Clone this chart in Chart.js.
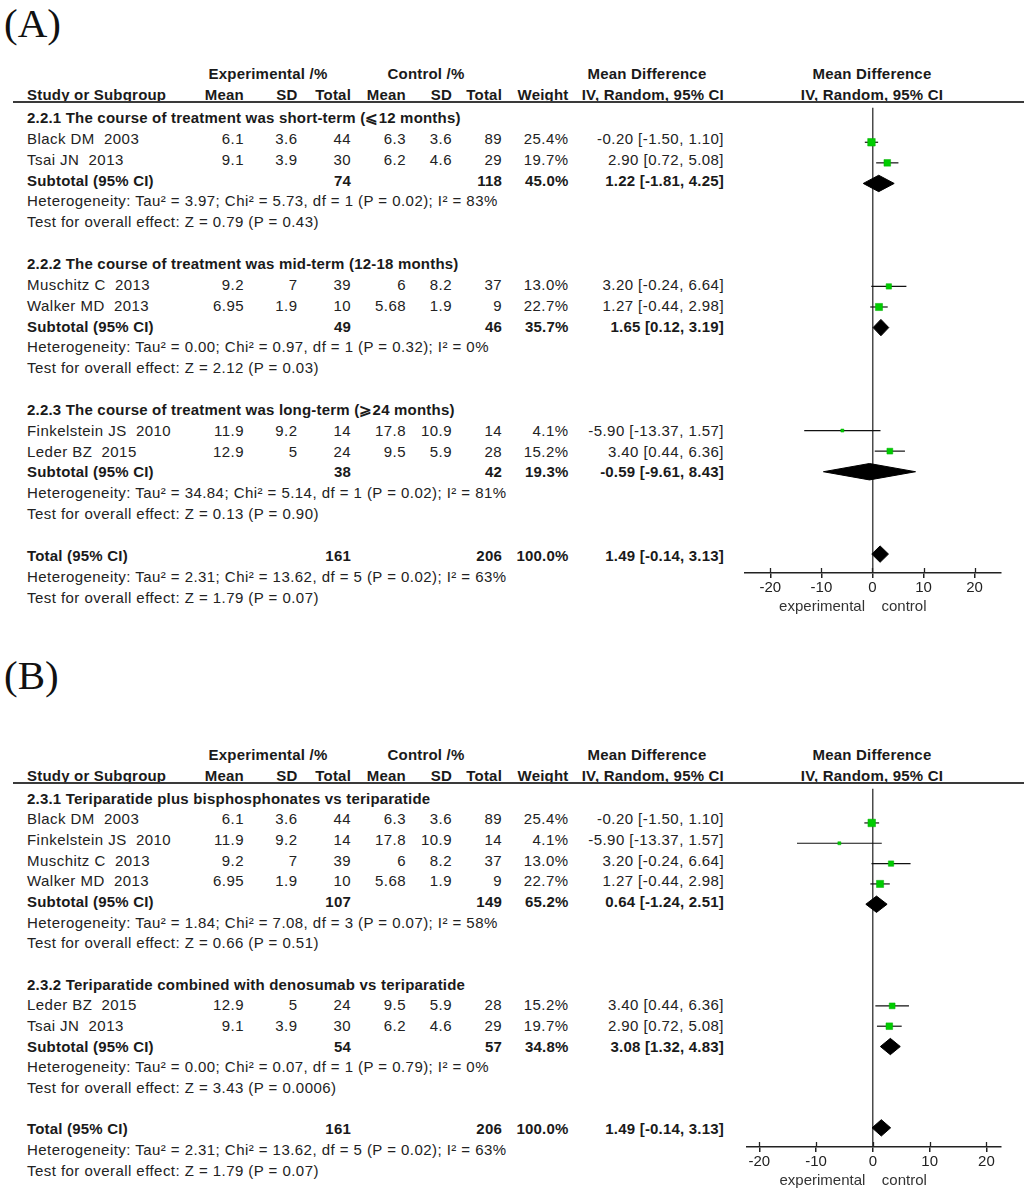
<!DOCTYPE html>
<html>
<head>
<meta charset="utf-8">
<script src="https://cdn.jsdelivr.net/npm/chart.js@4.4.1/dist/chart.umd.min.js"></script>
<style>
  html, body { margin: 0; padding: 0; background: #fff; }
  body { width: 1024px; height: 1193px; position: relative; overflow: hidden;
         font-family: 'Liberation Sans', Arial, sans-serif; color: #222; }
  .t { position: absolute; white-space: pre; font-size: 15px; line-height: 18px; letter-spacing: 0.45px; }
  .b { font-weight: bold; letter-spacing: 0.2px; color: #1a1a1a; }
  .lbl { position: absolute; font-family: 'Liberation Serif', 'Times New Roman', serif;
         font-size: 41px; line-height: 41px; color: #111; }
  .hline { position: absolute; height: 2px; background: #3a3a3a; }
  canvas { position: absolute; }
</style>
</head>
<body>
<script>
// study level data (shared by both panels)
const studies = ['Black DM  2003', 'Finkelstein JS  2010', 'Muschitz C  2013', 'Walker MD  2013', 'Leder BZ  2015', 'Tsai JN  2013'];
const expMean = [6.1, 11.9, 9.2, 6.95, 12.9, 9.1];
const expSD = [3.6, 9.2, 7, 1.9, 5, 3.9];
const expTotal = [44, 14, 39, 10, 24, 30];
const ctlMean = [6.3, 17.8, 6, 5.68, 9.5, 6.2];
const ctlSD = [3.6, 10.9, 8.2, 1.9, 5.9, 4.6];
const ctlTotal = [89, 14, 37, 9, 28, 29];
const weight = [25.4, 4.1, 13.0, 22.7, 15.2, 19.7];
const md = [-0.20, -5.90, 3.20, 1.27, 3.40, 2.90];
const mdLow = [-1.50, -13.37, -0.24, -0.44, 0.44, 0.72];
const mdHigh = [1.10, 1.57, 6.64, 2.98, 6.36, 5.08];

// panel A subgroups
const groupsA = ['2.2.1 The course of treatment was short-term (\u2A7D12 months)',
                 '2.2.2 The course of treatment was mid-term (12-18 months)',
                 '2.2.3 The course of treatment was long-term (\u2A7E24 months)'];
const membersA = [[0, 5], [2, 3], [1, 4]];
const subExpA = [74, 49, 38];
const subCtlA = [118, 46, 42];
const subWeightA = [45.0, 35.7, 19.3];
const subMdA = [1.22, 1.65, -0.59];
const subLowA = [-1.81, 0.12, -9.61];
const subHighA = [4.25, 3.19, 8.43];
const hetA = ['Heterogeneity: Tau\u00B2 = 3.97; Chi\u00B2 = 5.73, df = 1 (P = 0.02); I\u00B2 = 83%',
              'Heterogeneity: Tau\u00B2 = 0.00; Chi\u00B2 = 0.97, df = 1 (P = 0.32); I\u00B2 = 0%',
              'Heterogeneity: Tau\u00B2 = 34.84; Chi\u00B2 = 5.14, df = 1 (P = 0.02); I\u00B2 = 81%'];
const testA = ['Test for overall effect: Z = 0.79 (P = 0.43)',
               'Test for overall effect: Z = 2.12 (P = 0.03)',
               'Test for overall effect: Z = 0.13 (P = 0.90)'];

// panel B subgroups
const groupsB = ['2.3.1 Teriparatide plus bisphosphonates vs teriparatide',
                 '2.3.2 Teriparatide combined with denosumab vs teriparatide'];
const membersB = [[0, 1, 2, 3], [4, 5]];
const subExpB = [107, 54];
const subCtlB = [149, 57];
const subWeightB = [65.2, 34.8];
const subMdB = [0.64, 3.08];
const subLowB = [-1.24, 1.32];
const subHighB = [2.51, 4.83];
const hetB = ['Heterogeneity: Tau\u00B2 = 1.84; Chi\u00B2 = 7.08, df = 3 (P = 0.07); I\u00B2 = 58%',
              'Heterogeneity: Tau\u00B2 = 0.00; Chi\u00B2 = 0.07, df = 1 (P = 0.79); I\u00B2 = 0%'];
const testB = ['Test for overall effect: Z = 0.66 (P = 0.51)',
               'Test for overall effect: Z = 3.43 (P = 0.0006)'];

// overall (same in both panels)
const totalN = [161, 206];
const totalWeight = 100.0;
const totalEffect = [1.49, -0.14, 3.13];
const totalHet = 'Heterogeneity: Tau\u00B2 = 2.31; Chi\u00B2 = 13.62, df = 5 (P = 0.02); I\u00B2 = 63%';
const totalTest = 'Test for overall effect: Z = 1.79 (P = 0.07)';

const xTicks = [-20, -10, 0, 10, 20];
const sideLabels = ['experimental', 'control'];

// layout
const col = { name: 27, expMean: 244, expSD: 297.5, expN: 351, ctlMean: 406, ctlSD: 452, ctlN: 502, weight: 568.5, ci: 724 };
const panels = [
  { label: '(A)', labelTop: 3, row0: 118, pitch: 20.85, plotLeft: 739, plotRight: 1007, axisY: 573, xMin: -25, xMax: 25.2,
    groups: groupsA, members: membersA, subExp: subExpA, subCtl: subCtlA, subWeight: subWeightA,
    subMd: subMdA, subLow: subLowA, subHigh: subHighA, het: hetA, test: testA },
  { label: '(B)', labelTop: 655, row0: 798.5, pitch: 20.67, plotLeft: 741, plotRight: 1007, axisY: 1146.7, xMin: -22.2, xMax: 22.6,
    groups: groupsB, members: membersB, subExp: subExpB, subCtl: subCtlB, subWeight: subWeightB,
    subMd: subMdB, subLow: subLowB, subHigh: subHighB, het: hetB, test: testB }
];

Chart.defaults.font.family = "'Liberation Sans', Arial, sans-serif";
Chart.defaults.color = '#222';

function addText(txt, x, y, align, bold) {
  const el = document.createElement('div');
  el.className = 't' + (bold ? ' b' : '');
  el.textContent = txt;
  el.style.top = (y - 9) + 'px';
  if (align === 'right') {
    el.style.right = (1024 - x) + 'px';
    el.style.textAlign = 'right';
  } else if (align === 'center') {
    el.style.left = (x - 200) + 'px';
    el.style.width = '400px';
    el.style.textAlign = 'center';
  } else {
    el.style.left = x + 'px';
  }
  document.body.appendChild(el);
}

function ciText(m, lo, hi) {
  return m.toFixed(2) + ' [' + lo.toFixed(2) + ', ' + hi.toFixed(2) + ']';
}

function buildRows(p) {
  const rows = [];
  p.groups.forEach((g, gi) => {
    rows.push({ kind: 'group', text: g });
    p.members[gi].forEach(i => rows.push({ kind: 'study', i: i }));
    rows.push({ kind: 'sub', gi: gi });
    rows.push({ kind: 'note', text: p.het[gi] });
    rows.push({ kind: 'note', text: p.test[gi] });
    rows.push({ kind: 'blank' });
  });
  rows.push({ kind: 'total' });
  rows.push({ kind: 'note', text: totalHet });
  rows.push({ kind: 'note', text: totalTest });
  return rows;
}

// small plugin: tick marks above the axis line and the two side labels
const axisExtras = {
  id: 'axisExtras',
  afterDraw(chart) {
    const { ctx, chartArea } = chart;
    const sx = chart.scales.x;
    ctx.save();
    ctx.strokeStyle = '#222';
    ctx.lineWidth = 1.3;
    sx.ticks.forEach(t => {
      const px = Math.round(sx.getPixelForValue(t.value)) + 0.5;
      ctx.beginPath();
      ctx.moveTo(px, chartArea.bottom - 5);
      ctx.lineTo(px, chartArea.bottom);
      ctx.stroke();
    });
    const zero = sx.getPixelForValue(0);
    ctx.fillStyle = '#333';
    ctx.font = "15px 'Liberation Sans', Arial, sans-serif";
    ctx.textBaseline = 'middle';
    const ly = chartArea.bottom + 34;
    ctx.textAlign = 'right';
    ctx.fillText(sideLabels[0], zero - 7.5, ly);
    ctx.textAlign = 'left';
    ctx.fillText(sideLabels[1], zero + 9, ly);
    ctx.restore();
  }
};

panels.forEach(p => {
  const rows = buildRows(p);
  const lineY = p.row0 - 16;

  // panel letter
  const lab = document.createElement('div');
  lab.className = 'lbl';
  lab.textContent = p.label;
  lab.style.left = '4px';
  lab.style.top = p.labelTop + 'px';
  document.body.appendChild(lab);

  // headers
  const h1 = p.row0 - 44, h2 = p.row0 - 23;
  addText('Experimental /%', 268, h1, 'center', true);
  addText('Control /%', 426, h1, 'center', true);
  addText('Mean Difference', 647, h1, 'center', true);
  addText('Mean Difference', 872, h1, 'center', true);
  addText('Study or Subgroup', col.name, h2, 'left', true);
  addText('Mean', col.expMean, h2, 'right', true);
  addText('SD', col.expSD, h2, 'right', true);
  addText('Total', col.expN, h2, 'right', true);
  addText('Mean', col.ctlMean, h2, 'right', true);
  addText('SD', col.ctlSD, h2, 'right', true);
  addText('Total', col.ctlN, h2, 'right', true);
  addText('Weight', col.weight, h2, 'right', true);
  addText('IV, Random, 95% CI', col.ci, h2, 'right', true);
  addText('IV, Random, 95% CI', 872, h2, 'center', true);
  const hl = document.createElement('div');
  hl.className = 'hline';
  hl.style.left = '13px';
  hl.style.width = '1011px';
  hl.style.top = (lineY - 1) + 'px';
  document.body.appendChild(hl);

  // table rows
  rows.forEach((r, ri) => {
    const y = p.row0 + ri * p.pitch;
    if (r.kind === 'group') addText(r.text, col.name, y, 'left', true);
    if (r.kind === 'note') addText(r.text, col.name, y, 'left', false);
    if (r.kind === 'study') {
      const i = r.i;
      addText(studies[i], col.name, y, 'left', false);
      addText(String(expMean[i]), col.expMean, y, 'right', false);
      addText(String(expSD[i]), col.expSD, y, 'right', false);
      addText(String(expTotal[i]), col.expN, y, 'right', false);
      addText(String(ctlMean[i]), col.ctlMean, y, 'right', false);
      addText(String(ctlSD[i]), col.ctlSD, y, 'right', false);
      addText(String(ctlTotal[i]), col.ctlN, y, 'right', false);
      addText(weight[i].toFixed(1) + '%', col.weight, y, 'right', false);
      addText(ciText(md[i], mdLow[i], mdHigh[i]), col.ci, y, 'right', false);
    }
    if (r.kind === 'sub') {
      const g = r.gi;
      addText('Subtotal (95% CI)', col.name, y, 'left', true);
      addText(String(p.subExp[g]), col.expN, y, 'right', true);
      addText(String(p.subCtl[g]), col.ctlN, y, 'right', true);
      addText(p.subWeight[g].toFixed(1) + '%', col.weight, y, 'right', true);
      addText(ciText(p.subMd[g], p.subLow[g], p.subHigh[g]), col.ci, y, 'right', true);
    }
    if (r.kind === 'total') {
      addText('Total (95% CI)', col.name, y, 'left', true);
      addText(String(totalN[0]), col.expN, y, 'right', true);
      addText(String(totalN[1]), col.ctlN, y, 'right', true);
      addText(totalWeight.toFixed(1) + '%', col.weight, y, 'right', true);
      addText(ciText(totalEffect[0], totalEffect[1], totalEffect[2]), col.ci, y, 'right', true);
    }
  });

  // forest plot
  const lift = 2 / p.pitch;
  const half = 8.3 / p.pitch;
  const squarePts = [], squareSize = [];
  const datasets = [];
  rows.forEach((r, ri) => {
    const y = ri - lift;
    if (r.kind === 'study') {
      const i = r.i;
      squarePts.push({ x: md[i], y: y });
      squareSize.push(1.5 * Math.sqrt(weight[i]) / Math.SQRT2);
      datasets.push({
        data: [{ x: mdLow[i], y: y }, { x: mdHigh[i], y: y }],
        showLine: true, borderColor: '#111', borderWidth: 1.2, pointRadius: 0, order: 2, clip: false
      });
    }
    let d = null;
    if (r.kind === 'sub') d = [p.subMd[r.gi], p.subLow[r.gi], p.subHigh[r.gi]];
    if (r.kind === 'total') d = totalEffect;
    if (d) {
      datasets.push({
        data: [{ x: d[1], y: y }, { x: d[0], y: y - half }, { x: d[2], y: y }, { x: d[0], y: y + half }, { x: d[1], y: y }],
        showLine: true, fill: 'shape', backgroundColor: '#000', borderColor: '#000', borderWidth: 1,
        pointRadius: 0, order: 3, clip: false
      });
    }
  });
  datasets.unshift({
    data: squarePts, pointStyle: 'rect', pointRadius: squareSize,
    pointBackgroundColor: '#00cc00', pointBorderColor: '#00b000', pointBorderWidth: 0.5, order: 0, clip: false
  });

  const areaH = p.axisY - lineY;
  const w = p.plotRight - p.plotLeft;
  const cv = document.createElement('canvas');
  cv.width = w;
  cv.height = areaH + 48;
  cv.style.left = p.plotLeft + 'px';
  cv.style.top = lineY + 'px';
  cv.style.width = w + 'px';
  cv.style.height = (areaH + 48) + 'px';
  document.body.appendChild(cv);

  new Chart(cv.getContext('2d'), {
    type: 'scatter',
    data: { datasets: datasets },
    options: {
      responsive: false,
      animation: false,
      devicePixelRatio: 1,
      layout: { padding: 0 },
      plugins: { legend: { display: false }, tooltip: { enabled: false } },
      scales: {
        x: {
          type: 'linear',
          min: p.xMin,
          max: p.xMax,
          afterBuildTicks: s => { s.ticks = xTicks.map(v => ({ value: v })); },
          afterFit: s => { s.height = 48; },
          ticks: { font: { size: 15 }, color: '#222', padding: 1, maxRotation: 0 },
          grid: {
            color: c => (c.tick && c.tick.value === 0) ? '#4a4a4a' : 'rgba(0,0,0,0)',
            lineWidth: 1.5,
            tickColor: '#222',
            tickLength: 5
          },
          border: { display: true, color: '#222', width: 1.5 }
        },
        y: {
          type: 'linear',
          display: false,
          reverse: true,
          min: (lineY - p.row0) / p.pitch,
          max: (p.axisY - p.row0) / p.pitch
        }
      }
    },
    plugins: [axisExtras]
  });
});
</script>
</body>
</html>
